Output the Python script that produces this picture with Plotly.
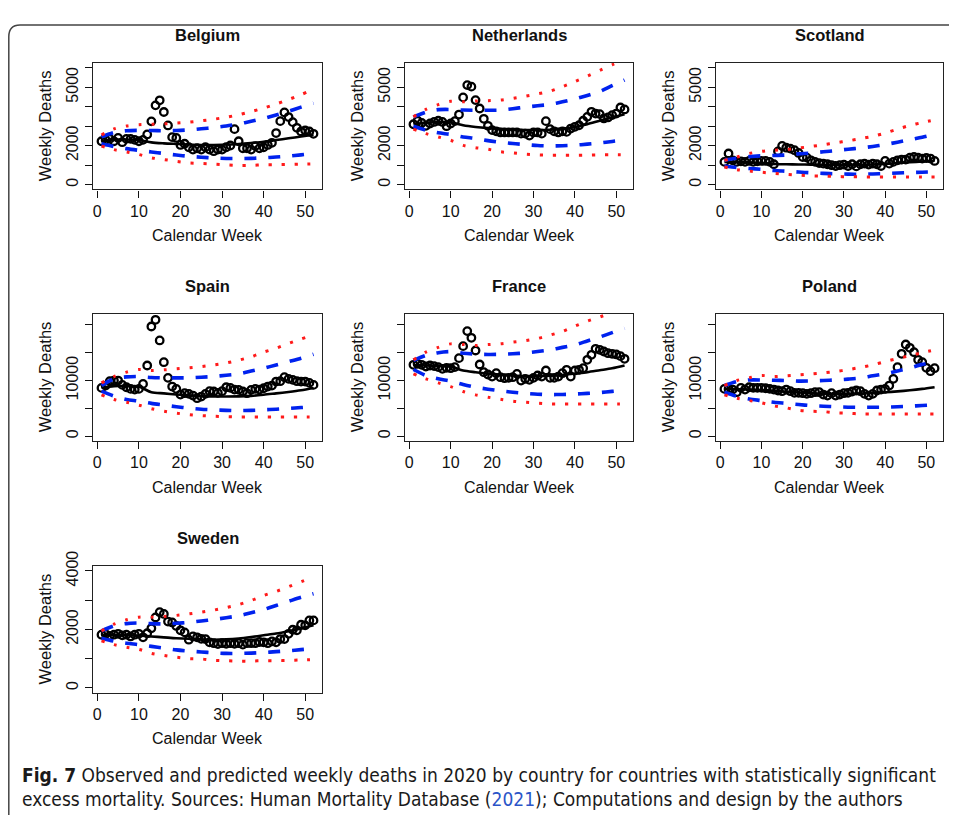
import plotly.graph_objects as go

# ---------------- data ----------------
WEEKS = list(range(1, 53))
LINE_WEEKS = [1, 4, 7, 10, 13, 16, 19, 22, 25, 28, 31, 34, 37, 40, 43, 46, 49, 52]
X_TICKS = [0, 10, 20, 30, 40, 50]

COUNTRIES = ["Belgium", "Netherlands", "Scotland", "Spain", "France", "Poland", "Sweden"]

belgium_observed = [2230, 2300, 2350, 2230, 2400, 2180, 2350, 2350, 2300, 2230, 2300, 2580, 3250,
                    4070, 4330, 3730, 3040, 2440, 2400, 2040, 2100, 1920, 1800, 1870, 1800, 1920,
                    1800, 1720, 1800, 1800, 1920, 2010, 2850, 2230, 1870, 1870, 1800, 1980, 1870,
                    1920, 2040, 2150, 2650, 3260, 3710, 3470, 3210, 2920, 2730, 2780, 2730, 2610]
belgium_predicted = [2250, 2310, 2320, 2290, 2170, 2120, 2090, 2060, 2040, 2040, 2060, 2090, 2140,
                     2200, 2290, 2380, 2470, 2560]
belgium_upper95 = [2450, 2680, 2770, 2790, 2780, 2770, 2780, 2810, 2870, 2930, 3010, 3120, 3250,
                   3400, 3580, 3770, 3980, 4180]
belgium_lower95 = [2100, 1960, 1850, 1760, 1680, 1600, 1520, 1460, 1410, 1370, 1345, 1340, 1350,
                   1380, 1420, 1470, 1530, 1600]
belgium_upper99 = [2550, 2860, 3010, 3080, 3100, 3120, 3160, 3210, 3280, 3360, 3460, 3590, 3750,
                   3930, 4140, 4370, 4620, 4890]
belgium_lower99 = [1980, 1800, 1680, 1550, 1380, 1290, 1200, 1120, 1090, 1060, 1020, 985, 990,
                   1020, 1030, 1040, 1055, 1070]

netherlands_observed = [3100, 3280, 3170, 3020, 3140, 3220, 3280, 3220, 3000, 3140, 3260, 3600, 4480,
                        5110, 5030, 4340, 3910, 3380, 3020, 2800, 2740, 2680, 2680, 2680, 2680, 2680,
                        2620, 2620, 2520, 2680, 2680, 2620, 3260, 2850, 2740, 2680, 2740, 2710, 2880,
                        2970, 3050, 3280, 3480, 3740, 3650, 3620, 3400, 3450, 3570, 3650, 3960, 3860]
netherlands_predicted = [3100, 3180, 3220, 3200, 3050, 2960, 2900, 2860, 2830, 2810, 2800, 2820, 2870,
                         2960, 3100, 3280, 3450, 3620]
netherlands_upper95 = [3480, 3720, 3850, 3860, 3830, 3820, 3820, 3830, 3900, 3980, 4050, 4120, 4250,
                       4400, 4580, 4780, 5080, 5370]
netherlands_lower95 = [3000, 2800, 2660, 2580, 2450, 2370, 2260, 2180, 2110, 2060, 2010, 1990, 2000,
                       2030, 2080, 2140, 2220, 2300]
netherlands_upper99 = [3480, 3860, 4110, 4280, 4250, 4290, 4310, 4340, 4430, 4540, 4660, 4800, 5030,
                       5290, 5570, 5860, 6150, 6400]
netherlands_lower99 = [2850, 2620, 2450, 2280, 2020, 1900, 1820, 1690, 1630, 1570, 1530, 1510, 1510,
                       1510, 1520, 1530, 1540, 1540]

scotland_observed = [1170, 1600, 1250, 1170, 1200, 1170, 1220, 1170, 1200, 1220, 1220, 1170, 1050,
                     1710, 1990, 1900, 1850, 1770, 1630, 1420, 1390, 1250, 1170, 1110, 1080, 1050,
                     1000, 960, 1000, 1030, 960, 1050, 940, 1050, 1080, 1030, 1080, 1050, 960,
                     1220, 1080, 1170, 1250, 1290, 1290, 1390, 1420, 1390, 1340, 1370, 1340, 1220]
scotland_predicted = [1170, 1170, 1150, 1120, 1060, 1050, 1040, 1030, 1020, 1010, 1010, 1020, 1040,
                      1070, 1110, 1150, 1190, 1230]
scotland_upper95 = [1250, 1360, 1440, 1480, 1500, 1520, 1580, 1620, 1690, 1750, 1820, 1880, 1960,
                    2060, 2180, 2310, 2440, 2590]
scotland_lower95 = [960, 880, 830, 790, 730, 690, 650, 610, 580, 560, 540, 540, 550, 570, 600, 620,
                    640, 660]
scotland_upper99 = [1250, 1420, 1600, 1710, 1770, 1800, 1880, 1960, 2050, 2150, 2250, 2360, 2480,
                    2650, 2850, 3040, 3190, 3320]
scotland_lower99 = [910, 770, 700, 640, 580, 530, 490, 455, 445, 420, 410, 400, 395, 395, 395, 395,
                    395, 395]

spain_observed = [8680, 9100, 9880, 10000, 10000, 9220, 8800, 8500, 8380, 8500, 9400, 12700, 19700,
                  20900, 17190, 13290, 10480, 8920, 8500, 7490, 7730, 7610, 7310, 6830, 7130, 7610,
                  8090, 8030, 7790, 8090, 8800, 8680, 8380, 8330, 8030, 7730, 8330, 8500, 8380,
                  8620, 8920, 9100, 9820, 9880, 10600, 10300, 10120, 9880, 9820, 9820, 9580, 9220]
spain_predicted = [8700, 9000, 9000, 8900, 7900, 7700, 7500, 7350, 7200, 7150, 7130, 7150, 7250,
                   7450, 7700, 7950, 8250, 8650]
spain_upper95 = [9100, 10300, 10650, 10720, 10550, 10480, 10480, 10490, 10600, 10730, 10950, 11200,
                 11700, 12200, 12800, 13400, 14000, 14700]
spain_lower95 = [8090, 7200, 6600, 6300, 5900, 5600, 5300, 5050, 4850, 4750, 4650, 4600, 4650,
                 4750, 4850, 5000, 5150, 5300]
spain_upper99 = [9580, 10700, 11500, 11980, 11800, 11920, 12100, 12280, 12500, 12800, 13150, 13650,
                 14250, 15100, 15800, 16650, 17450, 18200]
spain_lower99 = [7430, 6590, 6110, 5580, 4950, 4490, 4140, 3890, 3710, 3590, 3530, 3470, 3470,
                 3470, 3470, 3470, 3470, 3470]

france_observed = [12820, 13000, 12820, 12520, 12700, 12580, 12400, 12100, 12280, 12220, 12400, 14020,
                   16170, 18870, 17670, 15390, 12880, 11500, 11080, 10720, 11320, 10600, 10420, 10480,
                   10600, 11200, 10000, 10300, 10120, 10480, 10900, 10720, 11800, 10480, 10480, 10720,
                   11320, 11920, 10720, 11800, 11920, 12220, 13720, 14620, 15690, 15510, 15210, 14910,
                   14800, 14680, 14380, 13900]
france_predicted = [12800, 12700, 12600, 12500, 11800, 11500, 11250, 11050, 10900, 10800, 10800, 10850,
                    11000, 11250, 11500, 11850, 12200, 12700]
france_upper95 = [13600, 14500, 15000, 15200, 14900, 14750, 14680, 14700, 14800, 14950, 15200, 15500,
                  15950, 16400, 17100, 17800, 18600, 19400]
france_lower95 = [11980, 10900, 10300, 9900, 9300, 8800, 8450, 8150, 7900, 7700, 7550, 7480, 7500,
                  7580, 7700, 7850, 8050, 8250]
france_upper99 = [13720, 15100, 15950, 16580, 16470, 16290, 16450, 16600, 16880, 17150, 17550, 18150,
                  18800, 19750, 20650, 21400, 22200, 23000]
france_lower99 = [11200, 10300, 9580, 8920, 8030, 7430, 7010, 6640, 6300, 6100, 5950, 5820, 5810,
                  5810, 5810, 5810, 5810, 5810]

poland_observed = [8500, 8500, 8380, 7910, 8690, 8380, 8800, 8690, 8690, 8690, 8620, 8500, 8380, 8210,
                   8090, 8380, 8090, 7790, 7790, 7730, 7610, 7730, 7910, 7910, 7490, 7310, 7730, 7310,
                   7490, 7730, 7790, 8030, 8210, 8090, 7610, 7310, 7610, 8210, 8380, 8500, 9100,
                   10300, 12400, 14800, 16470, 15870, 15090, 13720, 13300, 12280, 11680, 12220]
poland_predicted = [8500, 8450, 8400, 8300, 8150, 8000, 7850, 7750, 7650, 7600, 7600, 7650, 7750,
                    7900, 8050, 8250, 8500, 8800]
poland_upper95 = [9100, 9800, 10100, 10100, 10050, 10000, 9900, 9920, 10000, 10100, 10250, 10450,
                  10850, 11200, 11700, 12250, 12900, 13300]
poland_lower95 = [7910, 7200, 6700, 6400, 6100, 5900, 5700, 5500, 5400, 5300, 5220, 5200, 5210,
                  5230, 5300, 5400, 5520, 5650]
poland_upper99 = [9100, 10000, 10480, 10900, 10720, 10850, 11000, 11180, 11380, 11620, 11950, 12350,
                  12800, 13400, 13950, 14450, 15000, 15500]
poland_lower99 = [7430, 6830, 6410, 6000, 5450, 5100, 4650, 4490, 4430, 4200, 4140, 4020, 4010,
                  4010, 4010, 4010, 4010, 4010]

sweden_observed = [1820, 1840, 1780, 1820, 1850, 1800, 1820, 1760, 1820, 1850, 1730, 1870, 2040,
                   2410, 2590, 2530, 2270, 2240, 2120, 1970, 1900, 1650, 1760, 1730, 1680, 1670,
                   1560, 1530, 1500, 1530, 1510, 1530, 1510, 1530, 1480, 1530, 1530, 1530, 1570,
                   1560, 1530, 1590, 1560, 1670, 1670, 1850, 1990, 1970, 2160, 2140, 2310, 2310]
sweden_predicted = [1820, 1810, 1800, 1790, 1760, 1730, 1700, 1680, 1660, 1650, 1660, 1690, 1740,
                    1800, 1860, 1940, 2030, 2140]
sweden_upper95 = [1950, 2120, 2200, 2220, 2200, 2190, 2210, 2240, 2290, 2340, 2400, 2470, 2570,
                  2680, 2820, 2960, 3100, 3220]
sweden_lower95 = [1700, 1600, 1530, 1480, 1420, 1360, 1300, 1260, 1230, 1200, 1180, 1180, 1190,
                  1210, 1240, 1270, 1310, 1350]
sweden_upper99 = [1950, 2180, 2330, 2420, 2420, 2440, 2480, 2530, 2590, 2660, 2750, 2850, 2990,
                  3160, 3300, 3460, 3630, 3800]
sweden_lower99 = [1610, 1480, 1390, 1320, 1180, 1110, 1050, 1000, 990, 945, 930, 915, 920, 930,
                  930, 940, 955, 970]

Y_TICKS_SMALL = [0, 1000, 2000, 3000, 4000, 5000, 6000]
Y_LABELS_SMALL = ["0", "", "2000", "", "", "5000", ""]
Y_TICKS_LARGE = [0, 5000, 10000, 15000, 20000]
Y_LABELS_LARGE = ["0", "", "10000", "", ""]
Y_TICKS_SWEDEN = [0, 1000, 2000, 3000, 4000]
Y_LABELS_SWEDEN = ["0", "", "2000", "", "4000"]

SERIES = {
    "Belgium": (belgium_observed, belgium_predicted, belgium_upper95, belgium_lower95, belgium_upper99, belgium_lower99),
    "Netherlands": (netherlands_observed, netherlands_predicted, netherlands_upper95, netherlands_lower95, netherlands_upper99, netherlands_lower99),
    "Scotland": (scotland_observed, scotland_predicted, scotland_upper95, scotland_lower95, scotland_upper99, scotland_lower99),
    "Spain": (spain_observed, spain_predicted, spain_upper95, spain_lower95, spain_upper99, spain_lower99),
    "France": (france_observed, france_predicted, france_upper95, france_lower95, france_upper99, france_lower99),
    "Poland": (poland_observed, poland_predicted, poland_upper95, poland_lower95, poland_upper99, poland_lower99),
    "Sweden": (sweden_observed, sweden_predicted, sweden_upper95, sweden_lower95, sweden_upper99, sweden_lower99),
}
Y_SETUP = {
    "Belgium": (6000, Y_TICKS_SMALL, Y_LABELS_SMALL),
    "Netherlands": (6000, Y_TICKS_SMALL, Y_LABELS_SMALL),
    "Scotland": (6000, Y_TICKS_SMALL, Y_LABELS_SMALL),
    "Spain": (21150, Y_TICKS_LARGE, Y_LABELS_LARGE),
    "France": (21150, Y_TICKS_LARGE, Y_LABELS_LARGE),
    "Poland": (21150, Y_TICKS_LARGE, Y_LABELS_LARGE),
    "Sweden": (4000, Y_TICKS_SWEDEN, Y_LABELS_SWEDEN),
}

# ---------------- layout geometry ----------------
# target positions are given in final picture pixels; the page is offset by the
# body margin and the photograph shifts/squeezes the page slightly in y.
BODY = 8
SHOT_DY, SHOT_SY = 16.2, 0.978
W, H = 957 - 2 * BODY, 815
COL_X = [(93, 322), (405, 633), (716, 943)]
ROW_Y = [(63, 189), (313, 440), (565, 691)]
POS = {"Belgium": (0, 0), "Netherlands": (0, 1), "Scotland": (0, 2),
       "Spain": (1, 0), "France": (1, 1), "Poland": (1, 2), "Sweden": (2, 0)}

FONT = "Liberation Sans, Arial, Helvetica, sans-serif"
INK = "#111111"


def px(x):
    return (x - BODY) / W


def fy(y):
    return (y - SHOT_DY) / SHOT_SY - BODY


def py(y):
    return 1 - fy(y) / H


fig = go.Figure()
annotations = []
layout_axes = {}

for i, name in enumerate(COUNTRIES):
    r, c = POS[name]
    x0, x1 = COL_X[c]
    y0, y1 = ROW_Y[r]
    xa = "x" if i == 0 else f"x{i+1}"
    ya = "y" if i == 0 else f"y{i+1}"
    xkey = "xaxis" if i == 0 else f"xaxis{i+1}"
    ykey = "yaxis" if i == 0 else f"yaxis{i+1}"
    obs, pred, up95, lo95, up99, lo99 = SERIES[name]
    ymax, yt, yl = Y_SETUP[name]

    fig.add_trace(go.Scatter(x=WEEKS, y=obs, mode="markers", xaxis=xa, yaxis=ya,
                             marker=dict(symbol="circle-open", size=7.5, color="black",
                                         line=dict(width=2.3, color="black")),
                             showlegend=False, cliponaxis=True))
    fig.add_trace(go.Scatter(x=LINE_WEEKS, y=pred, mode="lines", xaxis=xa, yaxis=ya,
                             line=dict(color="black", width=2.6, shape="spline", smoothing=0.8),
                             showlegend=False))
    for s in (up95, lo95):
        fig.add_trace(go.Scatter(x=LINE_WEEKS, y=s, mode="lines", xaxis=xa, yaxis=ya,
                                 line=dict(color="#0022ee", width=3.6, dash="12px,12px",
                                           shape="spline", smoothing=0.8),
                                 showlegend=False))
    for s in (up99, lo99):
        fig.add_trace(go.Scatter(x=LINE_WEEKS, y=s, mode="lines", xaxis=xa, yaxis=ya,
                                 line=dict(color="#ff1a1a", width=3, dash="3px,10px",
                                           shape="spline", smoothing=0.8),
                                 showlegend=False))

    pad = 0.04 * ymax
    layout_axes[xkey] = dict(domain=[px(x0), px(x1)], anchor=ya, range=[1 - 0.04 * 51, 52 + 0.04 * 51],
                             tickvals=X_TICKS, ticks="outside", ticklen=7, tickwidth=1.2,
                             tickcolor=INK, showline=True, mirror=True, linecolor="#222222",
                             linewidth=1.3, showgrid=False, zeroline=False,
                             tickfont=dict(family=FONT, size=16, color=INK))
    layout_axes[ykey] = dict(domain=[py(y1), py(y0)], anchor=xa, range=[-pad, ymax + pad],
                             tickvals=yt, ticktext=yl, tickangle=-90, ticks="outside", ticklen=7,
                             tickwidth=1.2, tickcolor=INK, showline=True, mirror=True,
                             linecolor="#222222", linewidth=1.3, showgrid=False, zeroline=False,
                             tickfont=dict(family=FONT, size=16, color=INK))

    annotations.append(dict(text=f"<b>{name}</b>", x=px((x0 + x1) / 2), y=py(y0 - 28),
                            xref="paper", yref="paper", showarrow=False,
                            font=dict(family=FONT, size=16.5, color=INK), xanchor="center", yanchor="middle"))
    annotations.append(dict(text="Calendar Week", x=px((x0 + x1) / 2), y=py(y1 + 46),
                            xref="paper", yref="paper", showarrow=False,
                            font=dict(family=FONT, size=16, color=INK), xanchor="center", yanchor="middle"))
    annotations.append(dict(text="Weekly Deaths", x=px(x0 - 48), y=py((y0 + y1) / 2),
                            xref="paper", yref="paper", showarrow=False, textangle=-90,
                            font=dict(family=FONT, size=16.5, color=INK), xanchor="center", yanchor="middle"))

CAP_FONT = "DejaVu Sans Condensed, Liberation Sans Narrow, sans-serif"
annotations.append(dict(
    text="<b>Fig. 7</b> Observed and predicted weekly deaths in 2020 by country for countries with statistically significant",
    x=px(20), y=py(773), xref="paper", yref="paper", showarrow=False, xanchor="left", yanchor="middle",
    font=dict(family=CAP_FONT, size=19.0, color="#1a1a1a")))
annotations.append(dict(
    text="excess mortality. Sources: Human Mortality Database (<span style='color:#2b55c8'>2021</span>); Computations and design by the authors",
    x=px(20), y=py(797), xref="paper", yref="paper", showarrow=False, xanchor="left", yanchor="middle",
    font=dict(family=CAP_FONT, size=19.0, color="#1a1a1a")))

BT = 1.0 - 1.0 / H   # top border as high as the figure allows
border = (f"M {px(8.8)},{py(840)} L {px(8.8)},{BT - 12 / H} "
          f"Q {px(8.8)},{BT} {px(20)},{BT} L {px(970)},{BT}")

fig.update_layout(
    width=W, height=H, margin=dict(l=0, r=0, t=0, b=0),
    paper_bgcolor="white", plot_bgcolor="white", showlegend=False,
    annotations=annotations,
    shapes=[dict(type="path", path=border, xref="paper", yref="paper",
                 line=dict(color="#444444", width=1.5))],
    **layout_axes,
)

fig.write_html("out.html")
